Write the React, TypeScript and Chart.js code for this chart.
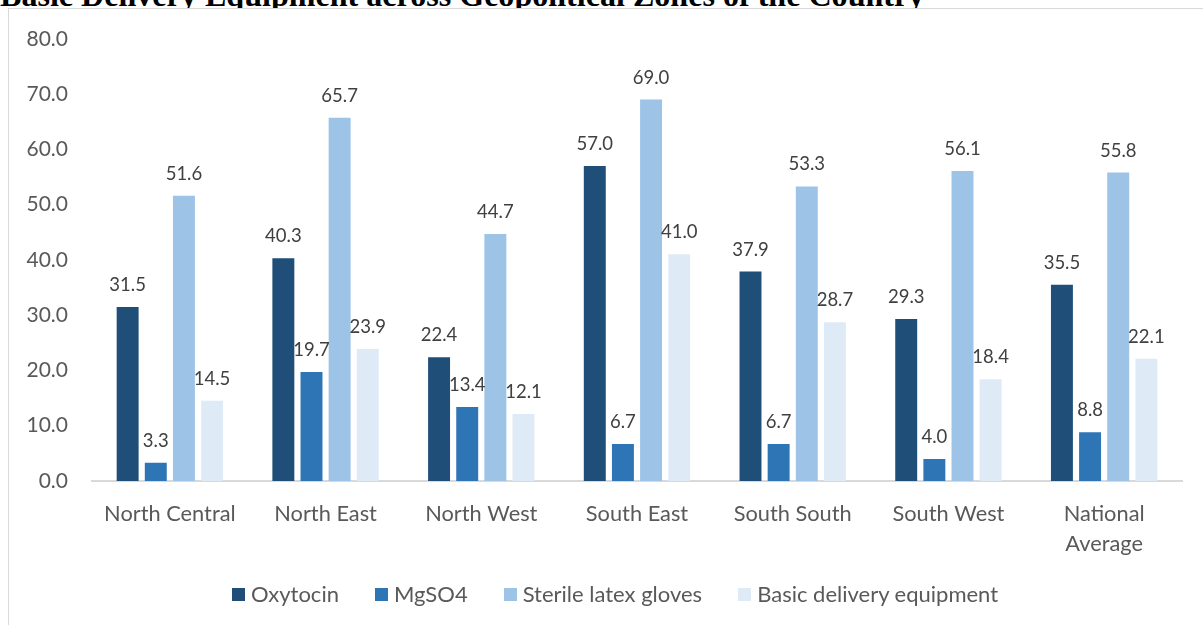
import React, { useEffect, useRef } from 'react';
import { Chart, registerables } from 'chart.js';

Chart.register(...registerables);

const titleText = 'Basic Delivery Equipment across Geopolitical Zones of the Country';
const categories: (string | string[])[] = [
  'North Central',
  'North East',
  'North West',
  'South East',
  'South South',
  'South West',
  ['National', 'Average'],
];
const oxytocin = [31.5, 40.3, 22.4, 57.0, 37.9, 29.3, 35.5];
const mgso4 = [3.3, 19.7, 13.4, 6.7, 6.7, 4.0, 8.8];
const gloves = [51.6, 65.7, 44.7, 69.0, 53.3, 56.1, 55.8];
const basicEquipment = [14.5, 23.9, 12.1, 41.0, 28.7, 18.4, 22.1];
const seriesNames = ['Oxytocin', 'MgSO4', 'Sterile latex gloves', 'Basic delivery equipment'];
const seriesColors = ['#1F4E79', '#2E75B6', '#9DC3E6', '#DEEBF7'];
const yMin = 0;
const yMax = 80;
const yStep = 10;

const FONT = 'Lato, "Open Sans", sans-serif';

const dataLabelPlugin = {
  id: 'dataLabels',
  afterDatasetsDraw(chart: any) {
    const ctx = chart.ctx;
    ctx.save();
    ctx.font = '18.5px ' + FONT;
    ctx.fillStyle = '#404040';
    ctx.textAlign = 'center';
    ctx.textBaseline = 'alphabetic';
    chart.data.datasets.forEach((ds: any, i: number) => {
      const meta = chart.getDatasetMeta(i);
      meta.data.forEach((el: any, j: number) => {
        ctx.fillText(Number(ds.data[j]).toFixed(1), el.x, el.y - 16);
      });
    });
    ctx.restore();
  },
};

export default function App() {
  const canvasRef = useRef<HTMLCanvasElement | null>(null);

  useEffect(() => {
    if (!canvasRef.current) return;
    const seriesData = [oxytocin, mgso4, gloves, basicEquipment];
    const chart = new Chart(canvasRef.current, {
      type: 'bar',
      data: {
        labels: categories,
        datasets: seriesNames.map((name, i) => ({
          label: name,
          data: seriesData[i],
          backgroundColor: seriesColors[i],
          borderWidth: 0,
          categoryPercentage: 0.723,
          barPercentage: 0.78,
        })),
      },
      options: {
        responsive: false,
        animation: false,
        devicePixelRatio: 1,
        layout: { padding: { left: 0, right: 21, top: 29.8, bottom: 64 } },
        plugins: {
          legend: { display: false },
          tooltip: { enabled: false },
          title: { display: false },
        },
        scales: {
          x: {
            grid: { display: false, drawTicks: false },
            border: { display: true, color: '#D9D9D9', width: 2 },
            ticks: {
              color: '#595959',
              font: { family: FONT, size: 21.8, lineHeight: 1.36 },
              padding: 18,
              maxRotation: 0,
              autoSkip: false,
            },
            afterFit: (s: any) => {
              s.height = 80;
            },
          },
          y: {
            min: yMin,
            max: yMax,
            grid: { display: false, drawTicks: false },
            border: { display: false },
            ticks: {
              stepSize: yStep,
              color: '#595959',
              font: { family: FONT, size: 21 },
              padding: 24,
              callback: (v: any) => Number(v).toFixed(1),
            },
            afterFit: (s: any) => {
              s.width = 83;
              s.paddingTop = 0;
              s.paddingBottom = 0;
            },
          },
        },
      },
      plugins: [dataLabelPlugin],
    });
    return () => chart.destroy();
  }, []);

  return (
    <div
      style={{
        position: 'fixed',
        left: 0,
        top: 0,
        width: 1203,
        height: 625,
        overflow: 'hidden',
        background: '#ffffff',
      }}
    >
      <div
        style={{
          position: 'absolute',
          left: 0,
          top: -21,
          fontFamily: '"Liberation Serif", "Times New Roman", serif',
          fontWeight: 'bold',
          fontSize: 32.1,
          lineHeight: '32px',
          whiteSpace: 'nowrap',
          color: '#000000',
        }}
      >
        {titleText}
      </div>
      <div
        style={{
          position: 'absolute',
          left: 8,
          top: 8,
          width: 1210,
          height: 640,
          borderTop: '1px solid #D9D9D9',
          borderLeft: '1px solid #D9D9D9',
          background: '#ffffff',
        }}
      >
        <canvas
          ref={canvasRef}
          width={1194}
          height={616}
          style={{ position: 'absolute', left: 0, top: 0, width: 1194, height: 616 }}
        />
      </div>
      <div
        style={{
          position: 'absolute',
          left: 232,
          top: 584,
          height: 20,
          display: 'flex',
          alignItems: 'flex-start',
          fontFamily: FONT,
          fontSize: 22,
          lineHeight: '20px',
          color: '#595959',
          whiteSpace: 'nowrap',
        }}
      >
        {seriesNames.map((name, i) => (
          <div
            key={name}
            style={{ display: 'flex', alignItems: 'flex-start', marginRight: i < seriesNames.length - 1 ? 36 : 0 }}
          >
            <span
              style={{
                display: 'inline-block',
                width: 13,
                height: 13,
                marginTop: 4,
                marginRight: 6,
                background: seriesColors[i],
              }}
            />
            <span>{name}</span>
          </div>
        ))}
      </div>
    </div>
  );
}
